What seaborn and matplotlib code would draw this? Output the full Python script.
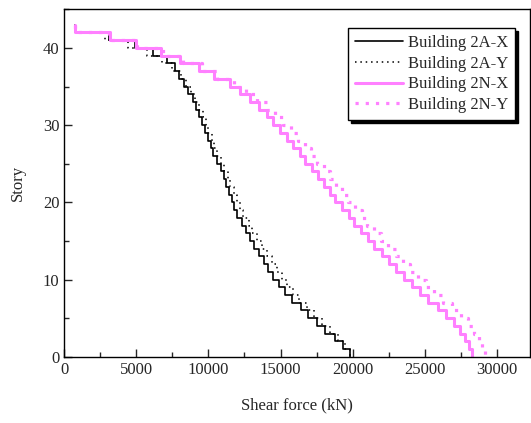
import matplotlib
matplotlib.use("Agg")
import matplotlib.pyplot as plt
import numpy as np
import pandas as pd
import seaborn as sns
from matplotlib.ticker import MultipleLocator

# story shear, story 1 (bottom) .. story 43 (top)
stories = np.arange(1, 44)

shear_2a_x = [19840, 19330, 18800, 18100, 17530, 16900, 16420, 15790, 15330, 14890,
              14470, 14150, 13820, 13500, 13170, 12900, 12600, 12360, 12010, 11800,
              11620, 11460, 11230, 11090, 10860, 10620, 10350, 10190, 10000, 9790,
              9580, 9370, 9120, 8920, 8610, 8290, 7990, 7690, 7110, 6180,
              4910, 3125, 760]

shear_2a_y = [19850, 19450, 19000, 18400, 17850, 17300, 16850, 16300, 15880, 15480,
              15080, 14750, 14400, 14050, 13700, 13380, 13050, 12780, 12420, 12170,
              11970, 11770, 11530, 11350, 11100, 10850, 10600, 10420, 10230, 10000,
              9800, 9600, 9350, 9100, 8800, 8450, 8100, 7500, 6800, 5750,
              4450, 2830, 750]

shear_2n_x = [28290, 28050, 27820, 27480, 27010, 26500, 25900, 25250, 24650, 24120,
              23540, 23030, 22500, 22040, 21510, 21040, 20580, 20120, 19720, 19260,
              18800, 18400, 17990, 17570, 17180, 16710, 16320, 15900, 15440, 14980,
              14510, 14050, 13500, 12900, 12200, 11500, 10380, 9350, 8050, 6700,
              5000, 3150, 760]

shear_2n_y = [29150, 28950, 28750, 28450, 28000, 27500, 26900, 26250, 25650, 25100,
              24550, 24000, 23480, 22980, 22450, 21980, 21500, 21030, 20620, 20150,
              19700, 19280, 18850, 18420, 18000, 17530, 17120, 16680, 16200, 15700,
              15200, 14650, 14050, 13350, 12600, 11800, 10600, 9550, 8250, 6850,
              5050, 3100, 750]

labels = ["Building 2A-X", "Building 2A-Y", "Building 2N-X", "Building 2N-Y"]

sns.set_style("ticks")
plt.rcParams["font.family"] = ["Liberation Serif", "DejaVu Serif"]


def staircase(shear):
    # vertical segment at V[i] between floor i-1 and floor i
    v = np.asarray(shear, dtype=float)[::-1]
    top = stories[::-1]
    x = np.repeat(v, 2)
    y = np.column_stack([top, top - 1]).ravel()
    return pd.DataFrame({"shear": x, "story": y})


fig = plt.figure(figsize=(5.31, 4.23), dpi=100)
ax = fig.add_axes([0.121, 0.1565, 0.877, 0.8215])

pink = "#ff80ff"
styles = [
    dict(color="black", lw=1.2, linestyle="-"),
    dict(color="black", lw=1.1, linestyle=(0, (1, 2.5))),
    dict(color=pink, lw=2.2, linestyle="-"),
    dict(color=pink, lw=2.3, linestyle=(0, (1, 2.2))),
]
for shear, lab, st in zip([shear_2a_x, shear_2a_y, shear_2n_x, shear_2n_y], labels, styles):
    df = staircase(shear)
    sns.lineplot(data=df, x="shear", y="story", sort=False, estimator=None,
                 label=lab, ax=ax, **st)

ax.set_xlim(0, 32300)
ax.set_ylim(0, 45)
ax.xaxis.set_major_locator(MultipleLocator(5000))
ax.xaxis.set_minor_locator(MultipleLocator(2500))
ax.yaxis.set_major_locator(MultipleLocator(10))
ax.yaxis.set_minor_locator(MultipleLocator(5))
ax.tick_params(which="major", direction="in", length=6, width=1, labelsize=12)
ax.tick_params(which="minor", direction="in", length=3.5, width=1)
for sp in ax.spines.values():
    sp.set_linewidth(1.0)
    sp.set_color("black")

ax.set_xlabel("Shear force (kN)", fontsize=12, labelpad=14)
ax.set_ylabel("Story", fontsize=12, labelpad=12)

leg = ax.legend(loc="upper right", bbox_to_anchor=(0.968, 0.945), borderaxespad=0,
                fontsize=12, frameon=True, fancybox=False, edgecolor="black",
                framealpha=1, handlelength=2.9, labelspacing=0.28, borderpad=0.4,
                handletextpad=0.3,
                shadow={"color": "black", "alpha": 1.0})
leg.get_frame().set_linewidth(1.0)

fig.savefig("out.png", dpi=100)
